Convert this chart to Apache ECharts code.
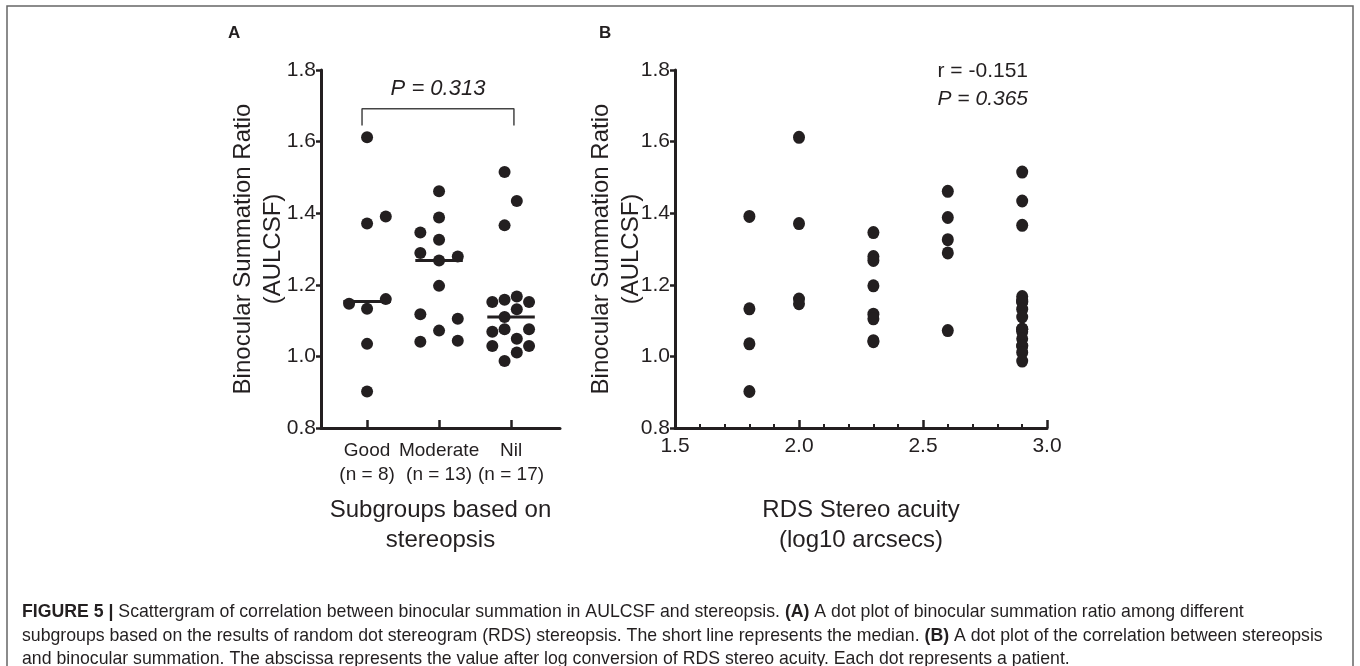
<!DOCTYPE html>
<html>
<head>
<meta charset="utf-8">
<script src="https://cdn.jsdelivr.net/npm/echarts@6/dist/echarts.min.js"></script>
<style>
html,body{margin:0;padding:0;background:#fff;}
#chart{width:1360px;height:666px;}
</style>
</head>
<body>
<div id="chart"></div>
<script>
// ---- Panel A data: binocular summation ratio per stereopsis subgroup ----
const groupNames = ['Good', 'Moderate', 'Nil'];
const goodRatio = [1.612, 1.371, 1.391, 1.147, 1.160, 1.133, 1.035, 0.902];
const goodJitter = [0, 0, 0.26, -0.25, 0.26, 0, 0, 0];
const moderateRatio = [1.461, 1.388, 1.346, 1.326, 1.289, 1.279, 1.268, 1.197, 1.118, 1.105, 1.072, 1.041, 1.044];
const moderateJitter = [0, 0, -0.26, 0, -0.26, 0.26, 0, 0, -0.26, 0.26, 0, -0.26, 0.26];
const nilRatio = [1.515, 1.434, 1.366, 1.152, 1.158, 1.167, 1.152, 1.132, 1.110, 1.069, 1.076, 1.076, 1.049, 1.029, 1.029, 1.011, 0.987];
const nilJitter = [-0.09, 0.08, -0.09, -0.26, -0.09, 0.08, 0.25, 0.08, -0.09, -0.26, -0.09, 0.25, 0.08, -0.26, 0.25, 0.08, -0.09];

// ---- Panel B data: RDS stereo acuity (log10 arcsec) vs ratio ----
const acuityLevels = [1.8, 2.0, 2.3, 2.6, 2.9];
const ratioAt18 = [1.391, 1.133, 1.035, 0.902];
const ratioAt20 = [1.612, 1.371, 1.160, 1.147];
const ratioAt23 = [1.346, 1.279, 1.268, 1.197, 1.118, 1.105, 1.044, 1.041];
const ratioAt26 = [1.461, 1.388, 1.326, 1.289, 1.072];
const ratioAt29 = [1.515, 1.434, 1.366, 1.152, 1.158, 1.167, 1.152, 1.132, 1.110, 1.069, 1.076, 1.076, 1.049, 1.029, 1.029, 1.011, 0.987];

// ---- tick labels / annotations ----
const yTickMin = 0.8, yTickMax = 1.8, yTickStep = 0.2;
const xTickMinB = 1.5, xTickMaxB = 3.0, xTickStepB = 0.5;
const pTextA = 'P = 0.313';
const rTextB = 'r = -0.151';
const pTextB = 'P = 0.365';

const INK = '#231f20';
const FONT = '"Liberation Sans", Arial, Helvetica, sans-serif';

const groups = [goodRatio, moderateRatio, nilRatio];
const jitters = [goodJitter, moderateJitter, nilJitter];
function median(a) {
  const s = a.slice().sort((x, y) => x - y);
  const m = Math.floor(s.length / 2);
  return s.length % 2 ? s[m] : (s[m - 1] + s[m]) / 2;
}

const dotsA = [];
groups.forEach((g, gi) => g.forEach((v, i) => dotsA.push([gi + 1 + jitters[gi][i], v])));

const medianSeries = groups.map((g, gi) => ({
  type: 'line', xAxisIndex: 0, yAxisIndex: 0, symbol: 'none', silent: true,
  lineStyle: { color: INK, width: 3 },
  data: [[gi + 1 - 0.33, median(g)], [gi + 1 + 0.33, median(g)]],
  z: 3
}));

const bGroups = [ratioAt18, ratioAt20, ratioAt23, ratioAt26, ratioAt29];
const dotsB = [];
bGroups.forEach((g, gi) => g.forEach(v => dotsB.push([acuityLevels[gi], v])));

function yAxisFor(gridIndex, gap) {
  return {
    type: 'value', gridIndex: gridIndex, min: yTickMin, max: yTickMax, interval: yTickStep,
    axisLine: { show: true, lineStyle: { color: INK, width: 3 } },
    axisTick: { show: true, inside: false, length: 5, lineStyle: { color: INK, width: 2.5 } },
    axisLabel: { color: INK, fontSize: 21, fontFamily: FONT, margin: 5, formatter: v => v.toFixed(1) },
    splitLine: { show: false },
    name: 'Binocular Summation Ratio\n(AULCSF)',
    nameLocation: 'middle', nameRotate: 90, nameGap: gap, nameMoveOverlap: false,
    nameTextStyle: { color: INK, fontSize: 24, fontFamily: FONT, lineHeight: 30 }
  };
}

const chart = echarts.init(document.getElementById('chart'));
chart.setOption({
  animation: false,
  backgroundColor: '#fff',
  grid: [
    { left: 321, top: 70, width: 239, height: 358 },
    { left: 675, top: 70, width: 372, height: 358 }
  ],
  xAxis: [
    {
      type: 'value', gridIndex: 0, min: 0.36, max: 3.68,
      axisLine: { show: true, lineStyle: { color: INK, width: 3 } },
      axisTick: { show: true, inside: true, length: 8, customValues: [1, 2, 3], lineStyle: { color: INK, width: 2.5 } },
      axisLabel: { show: false },
      splitLine: { show: false },
      name: 'Subgroups based on\nstereopsis', nameLocation: 'middle', nameGap: 67, nameMoveOverlap: false,
      nameTextStyle: { color: INK, fontSize: 24, fontFamily: FONT, lineHeight: 30, verticalAlign: 'top' }
    },
    {
      type: 'value', gridIndex: 1, min: xTickMinB, max: xTickMaxB, interval: xTickStepB,
      axisLine: { show: true, lineStyle: { color: INK, width: 3 } },
      axisTick: { show: true, inside: true, length: 8, lineStyle: { color: INK, width: 2.5 } },
      minorTick: { show: true, splitNumber: 5, length: 4, lineStyle: { color: INK, width: 2 } },
      axisLabel: { color: INK, fontSize: 21, fontFamily: FONT, margin: 8, formatter: v => v.toFixed(1) },
      splitLine: { show: false },
      name: 'RDS Stereo acuity\n(log10 arcsecs)', nameLocation: 'middle', nameGap: 67, nameMoveOverlap: false,
      nameTextStyle: { color: INK, fontSize: 24, fontFamily: FONT, lineHeight: 30, verticalAlign: 'top' }
    }
  ],
  yAxis: [yAxisFor(0, 33), yAxisFor(1, 29)],
  series: [
    {
      // category labels of panel A, anchored at each group's position on the axis
      type: 'scatter', xAxisIndex: 0, yAxisIndex: 0, silent: true, clip: false,
      symbolSize: 0, itemStyle: { opacity: 1, color: INK },
      data: groupNames.map((n, i) => [i + 1, yTickMin]),
      label: {
        show: true, position: 'bottom', distance: 11, color: INK, opacity: 1, fontSize: 19, fontFamily: FONT, lineHeight: 24,
        align: 'center',
        formatter: p => groupNames[p.dataIndex] + '\n(n = ' + groups[p.dataIndex].length + ')'
      }
    },
    {
      type: 'scatter', xAxisIndex: 0, yAxisIndex: 0, data: dotsA,
      symbol: 'circle', symbolSize: 12, itemStyle: { color: INK, opacity: 1 }, z: 4
    },
    ...medianSeries,
    {
      type: 'line', xAxisIndex: 0, yAxisIndex: 0, symbol: 'none', silent: true,
      lineStyle: { color: '#444', width: 1.5 },
      data: [[0.93, 1.645], [0.93, 1.692], [3.04, 1.692], [3.04, 1.645]]
    },
    {
      type: 'scatter', xAxisIndex: 1, yAxisIndex: 1, data: dotsB,
      symbol: 'circle', symbolSize: [12, 13], itemStyle: { color: INK, opacity: 1 }, z: 4
    }
  ],
  graphic: [
    { type: 'rect', shape: { x: 7, y: 6, width: 1346, height: 680 }, style: { fill: 'none', stroke: '#666', lineWidth: 1.5 }, silent: true },
    { type: 'text', x: 228, y: 33, style: { text: 'A', font: 'bold 17px ' + FONT, fill: INK, verticalAlign: 'middle' } },
    { type: 'text', x: 599, y: 33, style: { text: 'B', font: 'bold 17px ' + FONT, fill: INK, verticalAlign: 'middle' } },
    { type: 'text', x: 438, y: 89, style: { text: pTextA, font: 'italic 22px ' + FONT, fill: INK, align: 'center', verticalAlign: 'middle' } },
    { type: 'text', x: 1028, y: 71, style: { text: rTextB, font: '21px ' + FONT, fill: INK, align: 'right', verticalAlign: 'middle' } },
    { type: 'text', x: 1028, y: 99, style: { text: pTextB, font: 'italic 21px ' + FONT, fill: INK, align: 'right', verticalAlign: 'middle' } },
    {
      type: 'text', x: 22, y: 612,
      style: {
        text: '{b|FIGURE 5 |} Scattergram of correlation between binocular summation in AULCSF and stereopsis. {b|(A)} A dot plot of binocular summation ratio among different',
        font: '17.7px ' + FONT, fill: INK, verticalAlign: 'middle',
        rich: { b: { fontWeight: 'bold', fontSize: 17.7, fontFamily: FONT, fill: INK } }
      }
    },
    {
      type: 'text', x: 22, y: 636,
      style: {
        text: 'subgroups based on the results of random dot stereogram (RDS) stereopsis. The short line represents the median. {b|(B)} A dot plot of the correlation between stereopsis',
        font: '17.7px ' + FONT, fill: INK, verticalAlign: 'middle',
        rich: { b: { fontWeight: 'bold', fontSize: 17.7, fontFamily: FONT, fill: INK } }
      }
    },
    {
      type: 'text', x: 22, y: 659,
      style: {
        text: 'and binocular summation. The abscissa represents the value after log conversion of RDS stereo acuity. Each dot represents a patient.',
        font: '17.7px ' + FONT, fill: INK, verticalAlign: 'middle'
      }
    }
  ]
});
</script>
</body>
</html>
